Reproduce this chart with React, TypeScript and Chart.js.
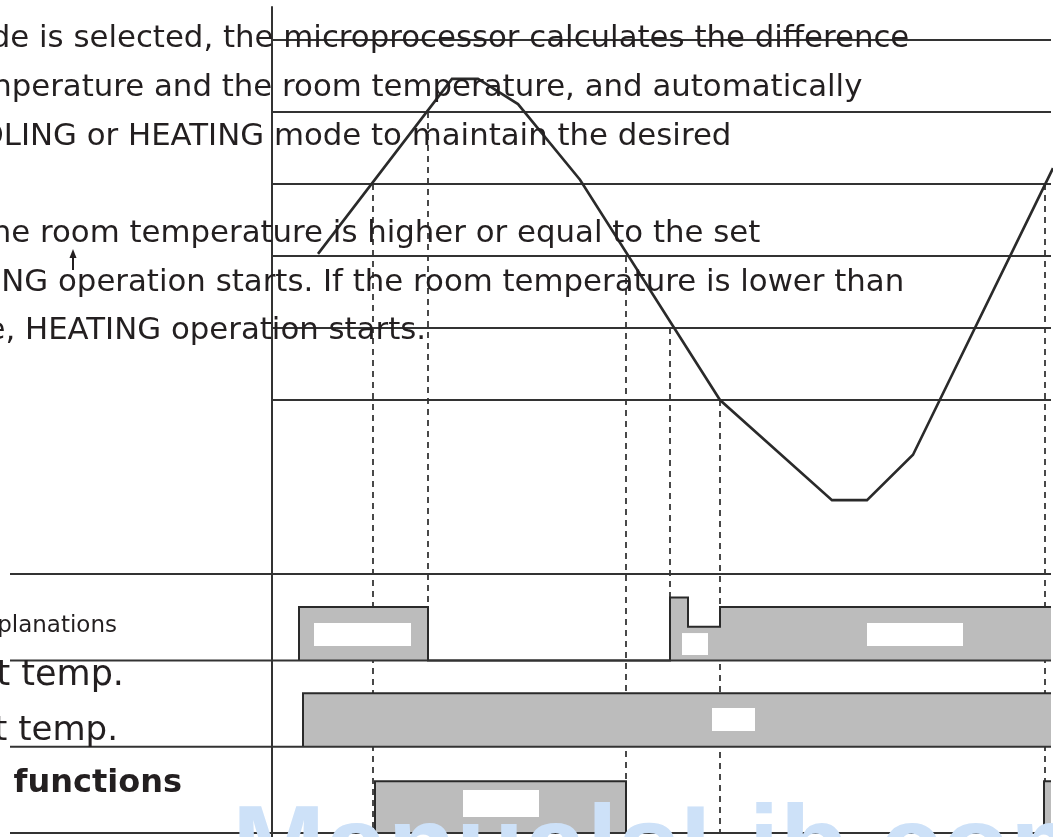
import React, { useEffect, useRef } from "react";
import { Chart, registerables } from "chart.js";

Chart.register(...registerables);

// ---- axes ranges (time units / temperature steps / timing rows) ----
const TIME_MIN = -27.2;
const TIME_MAX = 78.1;
const TEMP_MIN = -6.069;
const TEMP_MAX = 5.556;
const ROW_MIN = -0.046;
const ROW_MAX = 9.652;
const LINE_END = 77.9;
const LEFT_LINE_START = -26.2;

// ---- room temperature curve ----
const curveTimes = [4.6, 18.0, 20.6, 24.6, 30.8, 44.8, 56.0, 59.5, 64.1, 78.1];
const curveTemps = [2.03, 4.46, 4.46, 4.11, 3.06, 0, -1.39, -1.39, -0.76, 3.22];

// ---- temperature threshold lines and timing-row lines ----
const thresholdLevels = [0, 1, 2, 3, 4, 5];
const rowLines = [0, 1, 2, 3];
const axisTop = 5.47;

// ---- dashed event markers ----
const markerTimes = [10.1, 15.6, 35.4, 39.8, 44.8, 77.3];
const markerTopLevels = [3, 4, 2, 1, 0, 3];
const markerBottomRows = [0, 2.62, 0, 2.73, 0, 0];

// ---- timing rows (step waveforms) ----
const row1Times = [2.7, 2.7, 15.6, 39.8, 41.6, 44.8, 77.9];
const row1Levels = [0, 0.62, 0, 0.73, 0.39, 0.62, 0.62];
const row2Times = [3.1, 3.1, 77.9];
const row2Levels = [0, 0.62, 0.62];
const row3Times = [10.3, 10.3, 35.4, 77.2, 77.9];
const row3Levels = [0, 0.6, 0, 0.6, 0.6];
const rowBases = [2, 1, 0];

// ---- blank label boxes inside bars ----
const boxStart = [4.2, 41.0, 59.5, 44.0, 19.1];
const boxEnd = [13.9, 43.6, 69.1, 48.3, 26.7];
const boxRow = [2, 2, 2, 1, 0];
const boxLow = [0.167, 0.063, 0.167, 0.182, 0.185];
const boxHigh = [0.433, 0.317, 0.433, 0.448, 0.498];

// ---- texts ----
const paragraphLines = [
  "de is selected, the microprocessor calculates the difference",
  "nperature and the room temperature, and automatically",
  "OLING or HEATING mode to maintain the desired",
  "ne room temperature is higher or equal to the set",
  "NG operation starts. If the room temperature is lower than",
  "e, HEATING operation starts.",
];
const paragraphPrefixes = ["mo", "tem", "CO", "", "COOLI", "temperatur"];
const paragraphAnchors = ["the micro", "and the", "HEATING", "room", "operation", "HEATING"];
const sideLabels = ["planations", "t temp.", "t temp.", "functions"];
const sidePrefixes = ["Ex", "Se", "Se", "Special "];
const watermark = "ManualsLib.com";

const INK = "#2a2a2a";
const BAR = "#bcbcbc";
const FONT = "'DejaVu Sans'";

function pts(xs: number[], ys: number[], base = 0) {
  return xs.map((x, i) => ({ x, y: ys[i] + base }));
}

export default function App() {
  const ref = useRef<HTMLCanvasElement | null>(null);

  useEffect(() => {
    const canvas = ref.current;
    if (!canvas) return;

    const datasets: any[] = [];

    // curve (top)
    datasets.push({
      data: pts(curveTimes, curveTemps),
      yAxisID: "y",
      borderColor: INK,
      borderWidth: 2.6,
      fill: false,
      order: 1,
    });
    // threshold lines
    thresholdLevels.forEach((lv) =>
      datasets.push({
        data: [{ x: 0, y: lv }, { x: LINE_END, y: lv }],
        yAxisID: "y",
        borderColor: "#333333",
        borderWidth: 2,
        fill: false,
        order: 5,
      })
    );
    // vertical axis
    datasets.push({
      data: [{ x: 0, y: axisTop }, { x: 0, y: TEMP_MIN }],
      yAxisID: "y",
      borderColor: "#333333",
      borderWidth: 2,
      fill: false,
      order: 5,
    });
    // row lines
    rowLines.forEach((lv) =>
      datasets.push({
        data: [{ x: LEFT_LINE_START, y: lv }, { x: LINE_END, y: lv }],
        yAxisID: "y2",
        borderColor: "#333333",
        borderWidth: 2,
        fill: false,
        order: 5,
      })
    );
    // white label boxes
    boxStart.forEach((s, i) =>
      datasets.push({
        data: [
          { x: s, y: boxRow[i] + boxHigh[i] },
          { x: boxEnd[i], y: boxRow[i] + boxHigh[i] },
        ],
        yAxisID: "y2",
        borderWidth: 0,
        borderColor: "rgba(0,0,0,0)",
        backgroundColor: "#ffffff",
        fill: { value: boxRow[i] + boxLow[i] },
        order: 8,
      })
    );
    // timing bars
    const rows = [
      [row1Times, row1Levels],
      [row2Times, row2Levels],
      [row3Times, row3Levels],
    ];
    rows.forEach(([ts, ls], r) =>
      datasets.push({
        data: pts(ts as number[], ls as number[], rowBases[r]),
        yAxisID: "y2",
        stepped: true,
        borderColor: INK,
        borderWidth: 2,
        backgroundColor: BAR,
        fill: { value: rowBases[r] },
        order: 10,
      })
    );

    const overlay = {
      id: "overlay",
      beforeDatasetsDraw(chart: any) {
        const { ctx, scales } = chart;
        ctx.save();
        ctx.strokeStyle = INK;
        ctx.lineWidth = 1.7;
        ctx.setLineDash([6, 5]);
        markerTimes.forEach((t, i) => {
          const x = scales.x.getPixelForValue(t);
          ctx.beginPath();
          ctx.moveTo(x, scales.y.getPixelForValue(markerTopLevels[i]));
          ctx.lineTo(x, scales.y2.getPixelForValue(markerBottomRows[i]));
          ctx.stroke();
        });
        ctx.restore();
      },
      afterDraw(chart: any) {
        const { ctx } = chart;
        ctx.save();
        ctx.fillStyle = "#231f20";
        ctx.textBaseline = "alphabetic";
        // paragraph
        const baselines = [47, 96, 145, 242, 291, 339];
        const anchorX = [223, 154, 128, 40, 58, 25];
        ctx.font = "30.8px " + FONT;
        paragraphLines.forEach((line, i) => {
          const full = paragraphPrefixes[i] + line;
          const idx = full.indexOf(paragraphAnchors[i]);
          const x0 = anchorX[i] - ctx.measureText(full.slice(0, idx)).width;
          ctx.fillText(full, x0, baselines[i]);
        });
        // side labels (right aligned)
        ctx.textAlign = "right";
        const sideFonts = ["23px " + FONT, "35px " + FONT, "34px " + FONT, "bold 32px " + FONT];
        const sideRight = [117, 124, 118, 182];
        const sideBase = [632, 685, 740, 792];
        sideLabels.forEach((s, i) => {
          ctx.font = sideFonts[i];
          ctx.fillText(sidePrefixes[i] + s, sideRight[i], sideBase[i]);
        });
        // small arrow
        ctx.strokeStyle = "#231f20";
        ctx.lineWidth = 2;
        ctx.beginPath();
        ctx.moveTo(73, 256);
        ctx.lineTo(73, 270);
        ctx.stroke();
        ctx.beginPath();
        ctx.moveTo(73, 249);
        ctx.lineTo(69.5, 258);
        ctx.lineTo(76.5, 258);
        ctx.closePath();
        ctx.fill();
        // watermark
        ctx.textAlign = "left";
        ctx.fillStyle = "#cde1f8";
        ctx.font = "bold 112px 'Liberation Sans'";
        ctx.fillText(watermark, 232, 883);
        ctx.restore();
      },
    };

    const chart = new Chart(canvas, {
      type: "line",
      data: { datasets },
      options: {
        animation: false,
        responsive: false,
        events: [],
        layout: { padding: 0 },
        elements: { point: { radius: 0 }, line: { tension: 0 } },
        plugins: { legend: { display: false }, tooltip: { enabled: false }, title: { display: false } },
        scales: {
          x: { type: "linear", min: TIME_MIN, max: TIME_MAX, display: false },
          y: { type: "linear", min: TEMP_MIN, max: TEMP_MAX, display: false },
          y2: { type: "linear", min: ROW_MIN, max: ROW_MAX, display: false },
        },
      },
      plugins: [overlay],
    });
    return () => chart.destroy();
  }, []);

  return (
    <div style={{ position: "fixed", left: 0, top: 0, width: 1053, height: 837, background: "#fff" }}>
      <canvas ref={ref} width={1053} height={837} style={{ width: 1053, height: 837, display: "block" }} />
    </div>
  );
}
